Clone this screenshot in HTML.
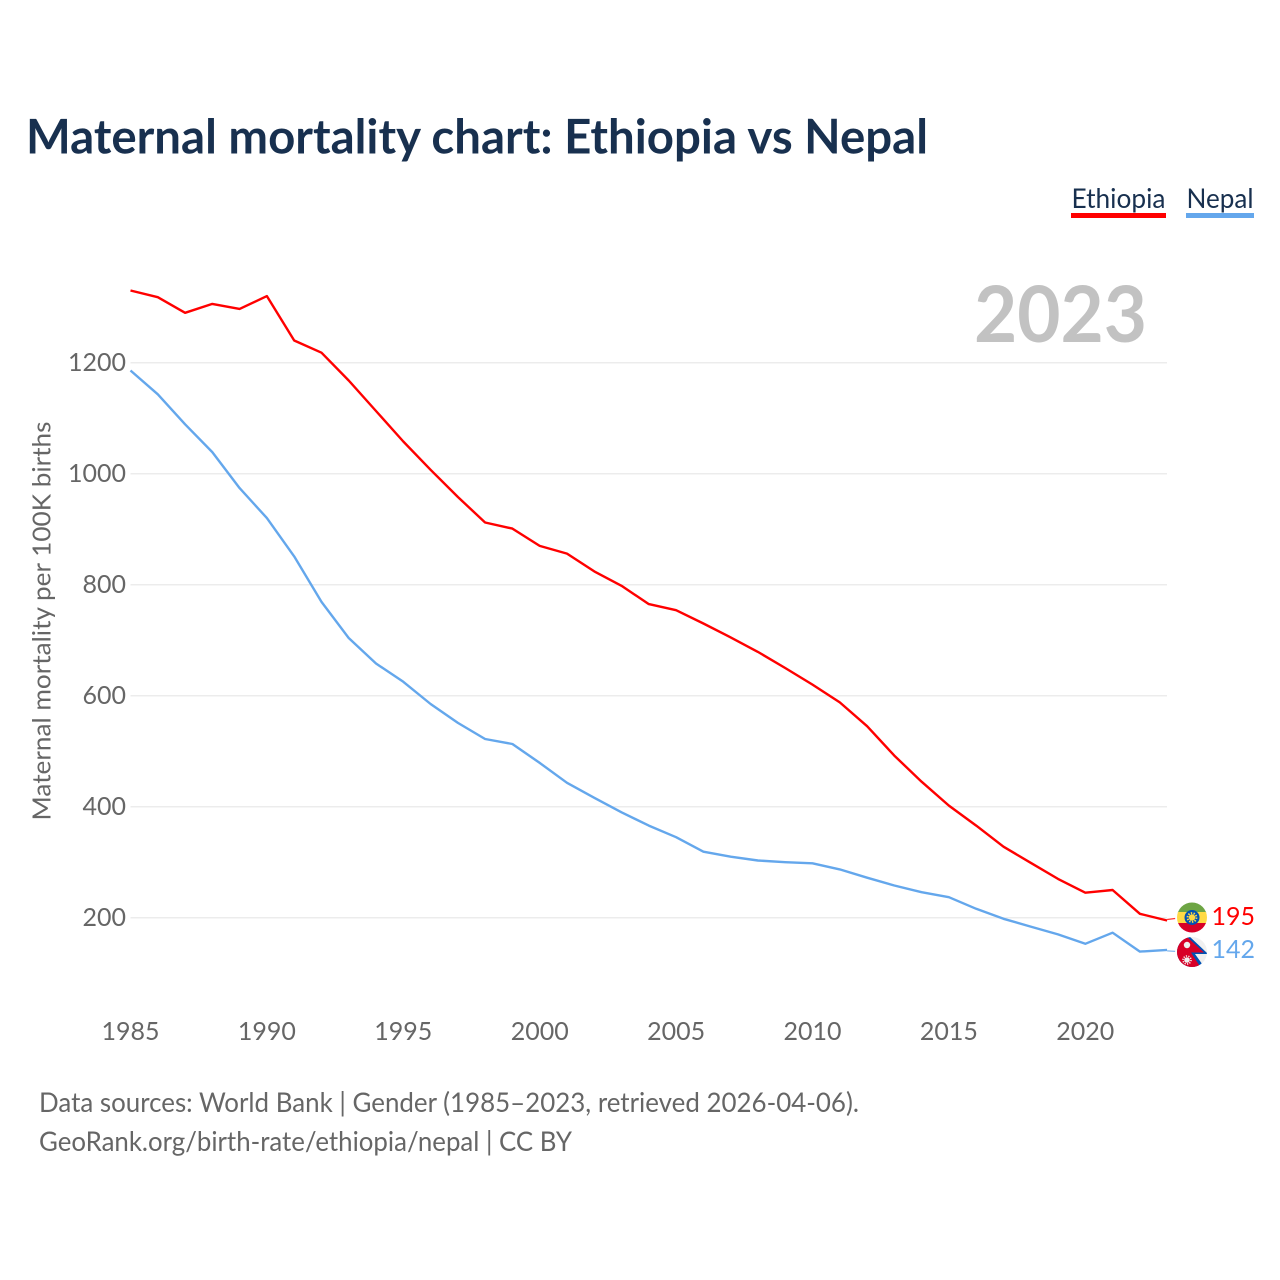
<!DOCTYPE html>
<html lang="en">
<head>
<meta charset="utf-8">
<title>Maternal mortality chart: Ethiopia vs Nepal</title>
<style>
html,body{margin:0;padding:0;background:#fff;}
svg{display:block;}
text{font-family:"Lato","Carlito","Liberation Sans",sans-serif;}
</style>
</head>
<body>
<svg id="chart" xmlns="http://www.w3.org/2000/svg" width="1280" height="1280" viewBox="0 0 1280 1280">
  <text x="26" y="153.5" font-size="48" font-weight="700" fill="#18304f" textLength="902" lengthAdjust="spacingAndGlyphs">Maternal mortality chart: Ethiopia vs Nepal</text>
  <g id="grid"></g>
  <g id="y-ticks"></g>
  <g id="x-ticks"></g>
  <text transform="translate(50.5,820.5) rotate(-90)" font-size="25" fill="#666666" textLength="399" lengthAdjust="spacingAndGlyphs">Maternal mortality per 100K births</text>
  <text x="974" y="342" font-size="78" font-weight="700" fill="#c2c2c2" textLength="173" lengthAdjust="spacingAndGlyphs">2023</text>
  <g id="series"></g>

  <g>
    <text x="1071.5" y="208" font-size="27" fill="#18304f" textLength="94" lengthAdjust="spacingAndGlyphs">Ethiopia</text>
    <rect x="1071" y="213" width="95" height="5" fill="#ff0000"/>
  </g>
  <g>
    <text x="1186.5" y="208" font-size="27" fill="#18304f" textLength="67" lengthAdjust="spacingAndGlyphs">Nepal</text>
    <rect x="1186" y="213" width="68" height="5" fill="#64a7ec"/>
  </g>

  <defs>
    <clipPath id="clip-eth"><circle cx="1192" cy="917.5" r="15"/></clipPath>
    <clipPath id="clip-nep"><circle cx="1192" cy="952" r="15"/></clipPath>
  </defs>
  <g clip-path="url(#clip-eth)">
    <rect x="1177" y="902" width="30" height="11" fill="#6da544"/>
    <rect x="1177" y="912" width="30" height="11" fill="#ffda44"/>
    <rect x="1177" y="923" width="30" height="11" fill="#d80027"/>
    <circle cx="1192" cy="917.5" r="7.5" fill="#0052b4"/>
    <circle cx="1192" cy="917.5" r="3.2" fill="#ffda44"/>
    <circle cx="1192" cy="917.5" r="4.4" fill="none" stroke="#ffda44" stroke-width="2" stroke-dasharray="1.4 1.37"/>
  </g>
  <g clip-path="url(#clip-nep)">
    <rect x="1177" y="937" width="30" height="30" fill="#f0f0f0"/>
    <polygon points="1177,935 1188,935 1208,954 1195,954 1205,968 1177,968" fill="#0052b4"/>
    <polygon points="1177,935 1186,936 1204,952.5 1191,952.5 1201,968 1177,968" fill="#d80027"/>
    <circle cx="1187" cy="945" r="3.2" fill="#f0f0f0"/>
    <circle cx="1187" cy="960" r="2.8" fill="#f0f0f0"/>
    <circle cx="1187" cy="960" r="4" fill="none" stroke="#f0f0f0" stroke-width="1.6" stroke-dasharray="1.2 1.31"/>
  </g>

  <text id="value-eth" x="1211.5" y="925" font-size="25" fill="#ff0000"></text>
  <text id="value-nep" x="1211.5" y="958" font-size="25" fill="#64a7ec"></text>

  <text x="39" y="1112" font-size="27" fill="#666666" textLength="820" lengthAdjust="spacingAndGlyphs">Data sources: World Bank | Gender (1985–2023, retrieved 2026-04-06).</text>
  <text x="39" y="1151" font-size="27" fill="#666666" textLength="533" lengthAdjust="spacingAndGlyphs">GeoRank.org/birth-rate/ethiopia/nepal | CC BY</text>
</svg>
<script>
const years = [1985,1986,1987,1988,1989,1990,1991,1992,1993,1994,1995,1996,1997,1998,1999,2000,2001,2002,2003,2004,2005,2006,2007,2008,2009,2010,2011,2012,2013,2014,2015,2016,2017,2018,2019,2020,2021,2022,2023];
const ethiopiaValues = [1330,1318,1290,1306,1297,1320,1240,1218,1168,1113,1058,1007,958,912,901,870,856,824,798,765,754,730,705,679,650,620,588,545,492,445,402,366,328,299,270,245,250,207,195];
const nepalValues = [1186,1143,1089,1039,974,920,851,769,704,658,625,585,551,522,513,479,443,416,390,366,345,319,310,303,300,298,287,272,258,246,237,216,198,184,170,153,173,139,142];
const yTickValues = [200,400,600,800,1000,1200];
const xTickValues = [1985,1990,1995,2000,2005,2010,2015,2020];

const SVG_NS = 'http://www.w3.org/2000/svg';
function xScale(year){ return 130.5 + (year - 1985) * 27.28; }
function yScale(value){ return 917.7 - (value - 200) * 0.555; }
function make(tag, attrs){
  const el = document.createElementNS(SVG_NS, tag);
  for (const k in attrs) el.setAttribute(k, attrs[k]);
  return el;
}

const gridGroup = document.getElementById('grid');
const yGroup = document.getElementById('y-ticks');
yTickValues.forEach(function(v){
  const line = make('line', {x1:130.5, x2:1167, y1:yScale(v), y2:yScale(v), stroke:'#ececec', 'stroke-width':1.5});
  
  
  gridGroup.appendChild(line);
  const label = make('text', {x:126, y:yScale(v) + 8.3, 'text-anchor':'end', 'font-size':25, fill:'#666666'});
  
  
  label.textContent = v;
  yGroup.appendChild(label);
});

const xGroup = document.getElementById('x-ticks');
xTickValues.forEach(function(y){
  const label = make('text', {x:xScale(y), y:1040, 'text-anchor':'middle', 'font-size':25, fill:'#666666'});
  
  
  label.textContent = y;
  xGroup.appendChild(label);
});

function linePoints(values){
  return values.map(function(v, i){ return xScale(years[i]).toFixed(1) + ',' + yScale(v).toFixed(1); }).join(' ');
}
const seriesGroup = document.getElementById('series');

const ethLine = make('polyline', {points:linePoints(ethiopiaValues), fill:'none', stroke:'#ff0000', 'stroke-width':2.4, 'stroke-linejoin':'round'});


seriesGroup.appendChild(ethLine);

const nepLine = make('polyline', {points:linePoints(nepalValues), fill:'none', stroke:'#64a7ec', 'stroke-width':2.4, 'stroke-linejoin':'round'});


seriesGroup.appendChild(nepLine);

const lastIdx = years.length - 1;
const ethStub = make('line', {x1:xScale(years[lastIdx]), y1:yScale(ethiopiaValues[lastIdx]) - 1, x2:xScale(years[lastIdx]) + 8, y2:yScale(ethiopiaValues[lastIdx]) - 2, stroke:'#ff0000', 'stroke-width':1.2, opacity:0.8});


seriesGroup.appendChild(ethStub);

const nepStub = make('line', {x1:xScale(years[lastIdx]), y1:yScale(nepalValues[lastIdx]) + 1, x2:xScale(years[lastIdx]) + 8, y2:yScale(nepalValues[lastIdx]) + 1.5, stroke:'#64a7ec', 'stroke-width':1.2, opacity:0.8});


seriesGroup.appendChild(nepStub);

document.getElementById('value-eth').textContent = ethiopiaValues[lastIdx];
document.getElementById('value-nep').textContent = nepalValues[lastIdx];
</script>
</body>
</html>
